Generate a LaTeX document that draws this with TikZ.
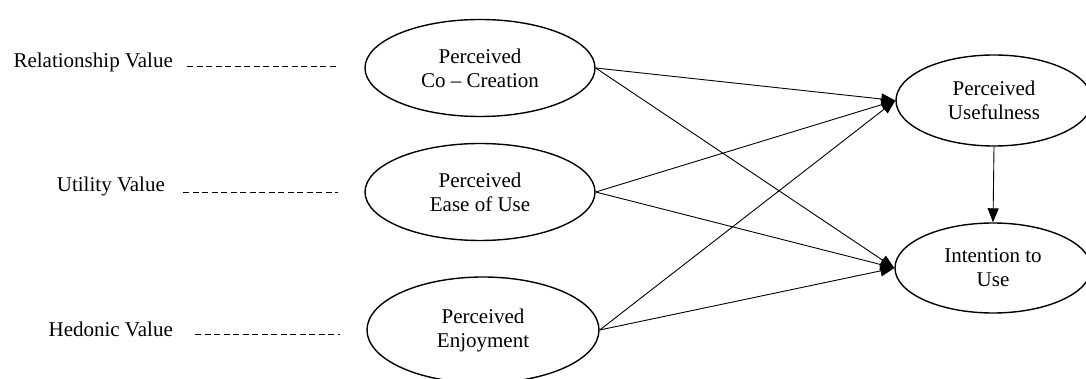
\documentclass[tikz,border=0pt]{standalone}
\usepackage{fontspec}
\setmainfont{Liberation Serif}
\usetikzlibrary{shapes.geometric,arrows.meta}
\begin{document}
\begin{tikzpicture}[x=1pt,y=-1pt,
  oval/.style={draw,ellipse,line width=1.4pt,inner sep=0pt,align=center,
    font=\fontsize{21}{24}\selectfont},
  lbl/.style={inner sep=0pt,font=\fontsize{21}{24}\selectfont},
  dashline/.style={line width=0.9pt,dash pattern=on 6pt off 3.5pt},
  link/.style={line width=0.9pt,-{Triangle[length=14pt,width=11pt]}}]
\useasboundingbox[fill=white] (0,0) rectangle (1086,379);
% ellipses
\node[oval,minimum width=230pt,minimum height=97pt] (cc) at (480,68) {Perceived\\Co -- Creation};
\node[oval,minimum width=230pt,minimum height=97pt] (eou) at (480,192) {Perceived\\Ease of Use};
\node[oval,minimum width=232pt,minimum height=106pt] (enj) at (483,330) {Perceived\\Enjoyment};
\node[oval,minimum width=196pt,minimum height=91pt] (pu) at (994,100.5) {Perceived\\Usefulness};
\node[oval,minimum width=196pt,minimum height=90pt] (itu) at (993,268) {Intention to\\Use};
% left labels
\node[lbl,anchor=base east] (rv) at (173,68) {Relationship Value};
\node[lbl,anchor=base east] (uv) at (165,192) {Utility Value};
\node[lbl,anchor=base east] (hv) at (173,336) {Hedonic Value};
\coordinate (rvs) at (187,66);  \coordinate (rve) at (338,66);
\coordinate (uvs) at (183,192); \coordinate (uve) at (338,192);
\coordinate (hvs) at (195,334); \coordinate (hve) at (340,334);
\draw[dashline] (rvs) -- (rve);
\draw[dashline] (uvs) -- (uve);
\draw[dashline] (hvs) -- (hve);
% arrows
\draw[link] (cc.east) -- (pu.west);
\draw[link] (cc.east) -- (itu.west);
\draw[link] (eou.east) -- (pu.west);
\draw[link] (eou.east) -- (itu.west);
\draw[link] (enj.east) -- (pu.west);
\draw[link] (enj.east) -- (itu.west);
\draw[link] (pu.south) -- (itu.north);
\end{tikzpicture}
\end{document}
